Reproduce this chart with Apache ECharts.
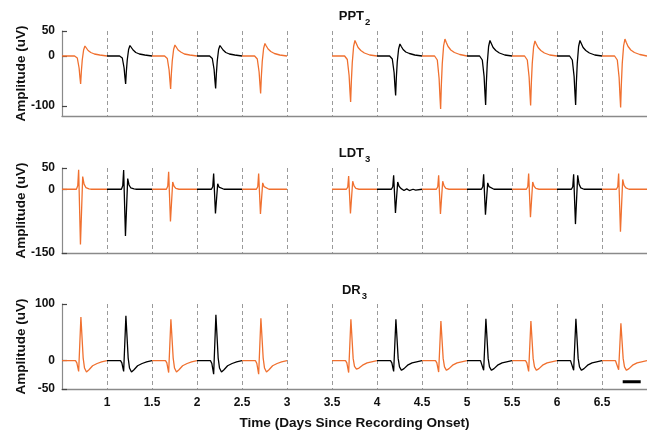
<!DOCTYPE html>
<html>
<head>
<meta charset="utf-8">
<script src="https://cdn.jsdelivr.net/npm/echarts@6/dist/echarts.min.js"></script>
<style>
html,body{margin:0;padding:0;background:#fff;}
#chart{width:647px;height:437px;}
</style>
</head>
<body>
<div id="chart"></div>
<script>
// ---- data ----
const segStarts = [0.5, 1, 1.5, 2, 2.5, 3.5, 4, 4.5, 5, 5.5, 6, 6.5];
const xTickLabels = [1, 1.5, 2, 2.5, 3, 3.5, 4, 4.5, 5, 5.5, 6, 6.5];

const panelTitles = ['PPT', 'LDT', 'DR'];
const panelSubs = ['2', '3', '3'];

const pptYTicks = [-100, 0, 50];
const ldtYTicks = [-150, 0, 50];
const drYTicks = [-50, 0, 100];

// PPT2 waveforms: time offset within each half-day segment (days) and amplitude (uV)
const pptOffsets = [0, 0.14, 0.17, 0.19, 0.20, 0.207, 0.215, 0.225, 0.24, 0.255, 0.27, 0.29, 0.32, 0.36, 0.42, 0.5];
const pptValues = [
  [0, 0, -4, -24, -44, -56, -31, -8, 12, 20, 16, 11, 7, 4, 2, 0],
  [0, 0, -4, -24, -44, -56, -31, -8, 13, 21, 17, 12, 7, 4, 2, 0],
  [0, 0, -5, -28, -51, -66, -36, -10, 13, 22, 18, 12, 8, 4, 2, 0],
  [0, 0, -5, -27, -51, -65, -36, -10, 13, 21, 17, 12, 7, 4, 2, 0],
  [0, 0, -6, -32, -58, -75, -41, -11, 15, 25, 20, 14, 9, 5, 2, 0],
  [0, 0, -7, -39, -72, -92, -51, -14, 19, 31, 25, 17, 11, 6, 2, 0],
  [0, 0, -6, -33, -62, -79, -43, -12, 14, 24, 19, 13, 8, 5, 2, 0],
  [0, 0, -8, -45, -83, -106, -58, -16, 20, 34, 27, 19, 12, 7, 3, 0],
  [0, 0, -8, -41, -76, -98, -54, -15, 19, 31, 25, 17, 11, 6, 2, 0],
  [0, 0, -8, -42, -77, -99, -54, -15, 18, 30, 24, 17, 11, 6, 2, 0],
  [0, 0, -8, -41, -76, -98, -54, -15, 19, 31, 25, 17, 11, 6, 2, 0],
  [0, 0, -8, -43, -80, -103, -57, -15, 20, 34, 27, 19, 12, 7, 3, 0]
];

// LDT3 waveforms
const ldtOffsets = [0, 0.16, 0.175, 0.185, 0.205, 0.23, 0.245, 0.265, 0.3, 0.33, 0.36, 0.4, 0.43, 0.5];
const ldtValues = [
  [0, 0, 8, 46, -130, 30, 12, 4, 1, 0, 0, 0, 0, 0],
  [0, 0, 8, 45, -110, 25, 10, 3, 1, 0, 0, 0, 0, 0],
  [0, 0, 7, 41, -76, 17, 7, 2, 0, 0, 0, 0, 0, 0],
  [0, 0, 6, 37, -57, 13, 5, 2, 0, 0, 0, 0, 0, 0],
  [0, 0, 6, 37, -58, 15, 6, 2, 0, 0, 0, 0, 0, 0],
  [0, 0, 5, 31, -57, 19, 8, 2, 0, 0, 0, 0, 0, 0],
  [0, 0, 6, 33, -56, 17, 7, 2, -3, 1, -3, 0, -2, 0],
  [0, 0, 6, 33, -58, 19, 8, 2, 0, 0, 0, 0, 0, 0],
  [0, 0, 6, 35, -60, 15, 6, 2, 0, 0, 0, 0, 0, 0],
  [0, 0, 6, 37, -66, 17, 7, 2, 0, 0, 0, 0, 0, 0],
  [0, 0, 6, 35, -82, 33, 12, 3, 0, 0, 0, 0, 0, 0],
  [0, 0, 6, 37, -100, 23, 9, 3, 0, 0, 0, 0, 0, 0]
];

// DR3 waveforms
const drOffsets = [0, 0.15, 0.165, 0.185, 0.21, 0.235, 0.25, 0.272, 0.3, 0.34, 0.39, 0.44, 0.5];
const drValues = [
  [0, 0, -4, -19, 77, 5, -13, -20, -16, -9, -5, -2, 0],
  [0, 0, -4, -19, 79, 5, -13, -20, -16, -9, -5, -2, 0],
  [0, 0, -4, -21, 73, 5, -13, -20, -16, -9, -5, -2, 0],
  [0, 0, -5, -24, 81, 5, -13, -20, -16, -9, -5, -2, 0],
  [0, 0, -5, -24, 75, 5, -13, -20, -16, -9, -5, -2, 0],
  [0, 0, -4, -21, 73, 4, -10, -15, -13, -8, -4, -2, 0],
  [0, 0, -4, -19, 73, 4, -11, -17, -14, -8, -4, -2, 0],
  [0, 0, -4, -20, 70, 4, -11, -17, -14, -8, -4, -2, 0],
  [0, 0, -3, -17, 74, 4, -11, -17, -14, -8, -4, -2, 0],
  [0, 0, -4, -19, 70, 4, -11, -17, -14, -8, -4, -2, 0],
  [0, 0, -3, -17, 74, 4, -11, -17, -14, -8, -4, -2, 0],
  [0, 0, -3, -16, 66, 4, -11, -17, -14, -8, -4, -2, 0]
];

// scale bar (DR3 panel)
const scaleBarX = [6.73, 6.93];
const scaleBarY = [-37, -37];

// ---- styling / layout ----
const ORANGE = '#F0702F';
const BLACK = '#000000';
const FONT = '"Liberation Sans", Arial, sans-serif';
const AXIS_GRAY = '#8a8a8a';

const gridTops = [31, 168, 304];
const gridH = 85;
const yRanges = [[-120, 50], [-150, 50], [-50, 100]];
const yTicks = [pptYTicks, ldtYTicks, drYTicks];

const grids = gridTops.map(t => ({
  left: 62, right: 0, top: t, height: gridH,
  containLabel: false, outerBoundsMode: 'none'
}));

const xAxes = gridTops.map((t, i) => ({
  type: 'value', gridIndex: i, min: 0.5, max: 7, interval: 0.5,
  axisLine: { onZero: false, lineStyle: { color: AXIS_GRAY, width: 1.3 } },
  axisTick: { show: false },
  splitLine: { show: true, lineStyle: { color: '#9a9a9a', type: [4, 3], width: 1 } },
  axisLabel: i === 2 ? {
    show: true, customValues: xTickLabels, color: '#111', fontFamily: FONT,
    fontWeight: 'bold', fontSize: 12, margin: 8
  } : { show: false },
  name: i === 2 ? 'Time (Days Since Recording Onset)' : '',
  nameLocation: 'middle', nameGap: 27, nameMoveOverlap: false,
  nameTextStyle: { color: '#111', fontFamily: FONT, fontWeight: 'bold', fontSize: 13.6 }
}));

const yAxes = gridTops.map((t, i) => ({
  type: 'value', gridIndex: i, min: yRanges[i][0], max: yRanges[i][1],
  axisLine: { show: true, onZero: false, lineStyle: { color: AXIS_GRAY, width: 1.2 } },
  axisTick: { show: true, inside: true, length: 5, customValues: yTicks[i], lineStyle: { color: '#444', width: 1.2 } },
  splitLine: { show: false },
  axisLabel: {
    customValues: yTicks[i], color: '#111', fontFamily: FONT, fontWeight: 'bold',
    fontSize: 12, margin: 7
  },
  name: 'Amplitude (uV)', nameLocation: 'middle', nameGap: 34, nameMoveOverlap: false,
  nameTextStyle: { color: '#111', fontFamily: FONT, fontWeight: 'bold', fontSize: 13.5 }
}));

function waveSeries(offsets, values, gi) {
  return segStarts.map((s, i) => {
    const c = Number.isInteger(s) ? BLACK : ORANGE;
    return {
      type: 'line', xAxisIndex: gi, yAxisIndex: gi,
      data: offsets.map((o, j) => [s + o, values[i][j]]),
      showSymbol: false, symbol: 'none', silent: true, animation: false,
      color: c, lineStyle: { color: c, width: 1.3 }, z: 3
    };
  });
}

const series = [
  ...waveSeries(pptOffsets, pptValues, 0),
  ...waveSeries(ldtOffsets, ldtValues, 1),
  ...waveSeries(drOffsets, drValues, 2),
  {
    type: 'line', xAxisIndex: 2, yAxisIndex: 2,
    data: scaleBarX.map((x, i) => [x, scaleBarY[i]]),
    showSymbol: false, symbol: 'none', silent: true, animation: false,
    lineStyle: { color: '#000', width: 3 }, color: '#000'
  }
];

const titleY = [16, 153.5, 290];
const graphic = panelTitles.map((t, i) => ({
  type: 'text', x: 354.5, y: titleY[i], z: 10,
  style: {
    text: '{m|' + t + '}{s|' + panelSubs[i] + '}',
    align: 'center', verticalAlign: 'middle',
    rich: {
      m: { fontFamily: FONT, fontWeight: 'bold', fontSize: 13, fill: '#111', lineHeight: 16 },
      s: { fontFamily: FONT, fontWeight: 'bold', fontSize: 9.5, fill: '#111', padding: [12, 0, 0, 1] }
    }
  }
}));

const chart = echarts.init(document.getElementById('chart'), null, { renderer: 'canvas' });
chart.setOption({
  animation: false,
  backgroundColor: '#fff',
  grid: grids,
  xAxis: xAxes,
  yAxis: yAxes,
  series: series,
  graphic: graphic
});
</script>
</body>
</html>
